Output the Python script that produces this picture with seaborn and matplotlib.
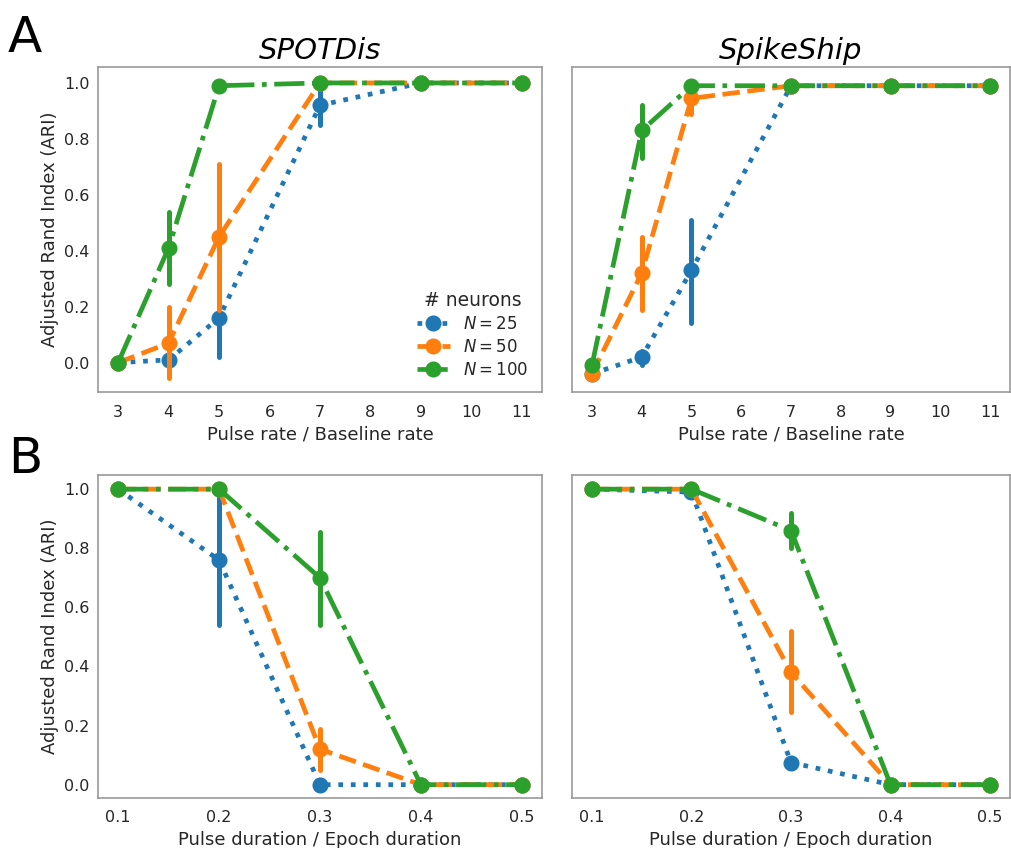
import numpy as np
import pandas as pd
import matplotlib
matplotlib.use("Agg")
import matplotlib.pyplot as plt
import seaborn as sns

# ---------------- data ----------------
rate_x = [3, 4, 5, 7, 9, 11]
dur_x = [0.1, 0.2, 0.3, 0.4, 0.5]
n_labels = ["$N=25$", "$N=50$", "$N=100$"]

# SPOTDis, pulse rate
spot_rate_n25 = [0.0, 0.01, 0.16, 0.92, 1.0, 1.0]
spot_rate_n25_lo = [0.0, 0.0, 0.02, 0.85, 1.0, 1.0]
spot_rate_n25_hi = [0.0, 0.02, 0.205, 0.99, 1.0, 1.0]
spot_rate_n50 = [0.0, 0.07, 0.45, 1.0, 1.0, 1.0]
spot_rate_n50_lo = [0.0, -0.055, 0.19, 1.0, 1.0, 1.0]
spot_rate_n50_hi = [0.0, 0.20, 0.71, 1.0, 1.0, 1.0]
spot_rate_n100 = [0.0, 0.41, 0.99, 1.0, 1.0, 1.0]
spot_rate_n100_lo = [0.0, 0.28, 0.99, 1.0, 1.0, 1.0]
spot_rate_n100_hi = [0.0, 0.54, 0.99, 1.0, 1.0, 1.0]

# SpikeShip, pulse rate
ship_rate_n25 = [-0.04, 0.02, 0.33, 0.99, 0.99, 0.99]
ship_rate_n25_lo = [-0.04, -0.01, 0.14, 0.99, 0.99, 0.99]
ship_rate_n25_hi = [-0.04, 0.04, 0.51, 0.99, 0.99, 0.99]
ship_rate_n50 = [-0.04, 0.32, 0.945, 0.99, 0.99, 0.99]
ship_rate_n50_lo = [-0.04, 0.19, 0.89, 0.99, 0.99, 0.99]
ship_rate_n50_hi = [-0.04, 0.45, 0.96, 0.99, 0.99, 0.99]
ship_rate_n100 = [-0.01, 0.83, 0.99, 0.99, 0.99, 0.99]
ship_rate_n100_lo = [-0.01, 0.73, 0.99, 0.99, 0.99, 0.99]
ship_rate_n100_hi = [-0.01, 0.92, 0.99, 0.99, 0.99, 0.99]

# SPOTDis, pulse duration
spot_dur_n25 = [1.0, 0.76, 0.0, 0.0, 0.0]
spot_dur_n25_lo = [1.0, 0.54, 0.0, 0.0, 0.0]
spot_dur_n25_hi = [1.0, 0.99, 0.0, 0.0, 0.0]
spot_dur_n50 = [1.0, 1.0, 0.12, 0.0, 0.0]
spot_dur_n50_lo = [1.0, 1.0, 0.05, 0.0, 0.0]
spot_dur_n50_hi = [1.0, 1.0, 0.19, 0.0, 0.0]
spot_dur_n100 = [1.0, 1.0, 0.70, 0.0, 0.0]
spot_dur_n100_lo = [1.0, 1.0, 0.54, 0.0, 0.0]
spot_dur_n100_hi = [1.0, 1.0, 0.855, 0.0, 0.0]

# SpikeShip, pulse duration
ship_dur_n25 = [1.0, 0.99, 0.075, 0.0, 0.0]
ship_dur_n25_lo = [1.0, 0.99, 0.06, 0.0, 0.0]
ship_dur_n25_hi = [1.0, 0.99, 0.09, 0.0, 0.0]
ship_dur_n50 = [1.0, 1.0, 0.38, 0.0, 0.0]
ship_dur_n50_lo = [1.0, 1.0, 0.245, 0.0, 0.0]
ship_dur_n50_hi = [1.0, 1.0, 0.52, 0.0, 0.0]
ship_dur_n100 = [1.0, 1.0, 0.86, 0.0, 0.0]
ship_dur_n100_lo = [1.0, 1.0, 0.80, 0.0, 0.0]
ship_dur_n100_hi = [1.0, 1.0, 0.92, 0.0, 0.0]

palette = ["#1f77b4", "#ff7f0e", "#2ca02c"]
line_styles = [":", "--", "-."]


def build_frame(xs, series):
    rows = []
    for label, (mid, lo, hi) in zip(n_labels, series):
        for x, m, l, h in zip(xs, mid, lo, hi):
            for v in (l, m, h):
                rows.append({"x": x, "ari": v, "N": label})
    return pd.DataFrame(rows)


df_spot_rate = build_frame(rate_x, [
    (spot_rate_n25, spot_rate_n25_lo, spot_rate_n25_hi),
    (spot_rate_n50, spot_rate_n50_lo, spot_rate_n50_hi),
    (spot_rate_n100, spot_rate_n100_lo, spot_rate_n100_hi)])
df_ship_rate = build_frame(rate_x, [
    (ship_rate_n25, ship_rate_n25_lo, ship_rate_n25_hi),
    (ship_rate_n50, ship_rate_n50_lo, ship_rate_n50_hi),
    (ship_rate_n100, ship_rate_n100_lo, ship_rate_n100_hi)])
df_spot_dur = build_frame(dur_x, [
    (spot_dur_n25, spot_dur_n25_lo, spot_dur_n25_hi),
    (spot_dur_n50, spot_dur_n50_lo, spot_dur_n50_hi),
    (spot_dur_n100, spot_dur_n100_lo, spot_dur_n100_hi)])
df_ship_dur = build_frame(dur_x, [
    (ship_dur_n25, ship_dur_n25_lo, ship_dur_n25_hi),
    (ship_dur_n50, ship_dur_n50_lo, ship_dur_n50_hi),
    (ship_dur_n100, ship_dur_n100_lo, ship_dur_n100_hi)])

# ---------------- style ----------------
sns.set_style("white")
plt.rcParams["font.family"] = ["DejaVu Sans"]
plt.rcParams["axes.edgecolor"] = "0.6"
plt.rcParams["axes.linewidth"] = 1.2
plt.rcParams["text.color"] = "0.15"
plt.rcParams["axes.labelcolor"] = "0.15"
plt.rcParams["xtick.color"] = "0.15"
plt.rcParams["ytick.color"] = "0.15"

fig = plt.figure(figsize=(10.11, 8.48), dpi=100)
ax_tl = fig.add_axes([0.0969, 0.5377, 0.4392, 0.3833])
ax_tr = fig.add_axes([0.5658, 0.5377, 0.4332, 0.3833])
ax_bl = fig.add_axes([0.0969, 0.0590, 0.4392, 0.3809])
ax_br = fig.add_axes([0.5658, 0.0590, 0.4332, 0.3809])

panels = [
    (ax_tl, df_spot_rate, True),
    (ax_tr, df_ship_rate, False),
    (ax_bl, df_spot_dur, False),
    (ax_br, df_ship_dur, False),
]

for ax, df, show_legend in panels:
    sns.pointplot(
        data=df, x="x", y="ari", hue="N", hue_order=n_labels,
        palette=palette, linestyles=line_styles, markers="o",
        estimator="median", errorbar=("pi", 100),
        native_scale=True, dodge=False, ax=ax, legend=show_legend,
        linewidth=3.4, markersize=9,
        err_kws={"linewidth": 3.6},
    )
    ax.tick_params(axis="both", length=0, labelsize=11.5)
    ax.tick_params(axis="x", pad=9)
    ax.tick_params(axis="y", pad=6)
    ax.set_yticks([0.0, 0.2, 0.4, 0.6, 0.8, 1.0])
    for s in ax.spines.values():
        s.set_color("0.6")
        s.set_linewidth(1.2)

for ax in (ax_tl, ax_tr):
    ax.set_xticks(list(range(3, 12)))
    ax.set_xlim(2.6, 11.4)
    ax.set_ylim(-0.105, 1.057)
    ax.set_xlabel("Pulse rate / Baseline rate", fontsize=13, labelpad=4)
for ax in (ax_bl, ax_br):
    ax.set_xticks(dur_x)
    ax.set_xticklabels([f"{v:.1f}" for v in dur_x])
    ax.set_xlim(0.08, 0.52)
    ax.set_ylim(-0.045, 1.048)
    ax.set_xlabel("Pulse duration / Epoch duration", fontsize=13, labelpad=4)

for ax in (ax_tl, ax_bl):
    ax.set_ylabel("Adjusted Rand Index (ARI)", fontsize=13, labelpad=4)
for ax in (ax_tr, ax_br):
    ax.set_ylabel("")
    ax.set_yticklabels([])

ax_tl.set_title("SPOTDis", fontsize=21, style="italic", pad=6, color="black")
ax_tr.set_title("SpikeShip", fontsize=21, style="italic", pad=6, color="black")

sns.move_legend(ax_tl, "lower right", title="# neurons", frameon=False,
                fontsize=12, title_fontsize=13.5, labelspacing=0.3,
                borderaxespad=0.4, handlelength=2.0)

fig.text(0.008, 0.9387, "A", fontsize=36, color="black", va="baseline", ha="left")
fig.text(0.008, 0.4422, "B", fontsize=36, color="black", va="baseline", ha="left")

fig.savefig("out.png", dpi=100)
